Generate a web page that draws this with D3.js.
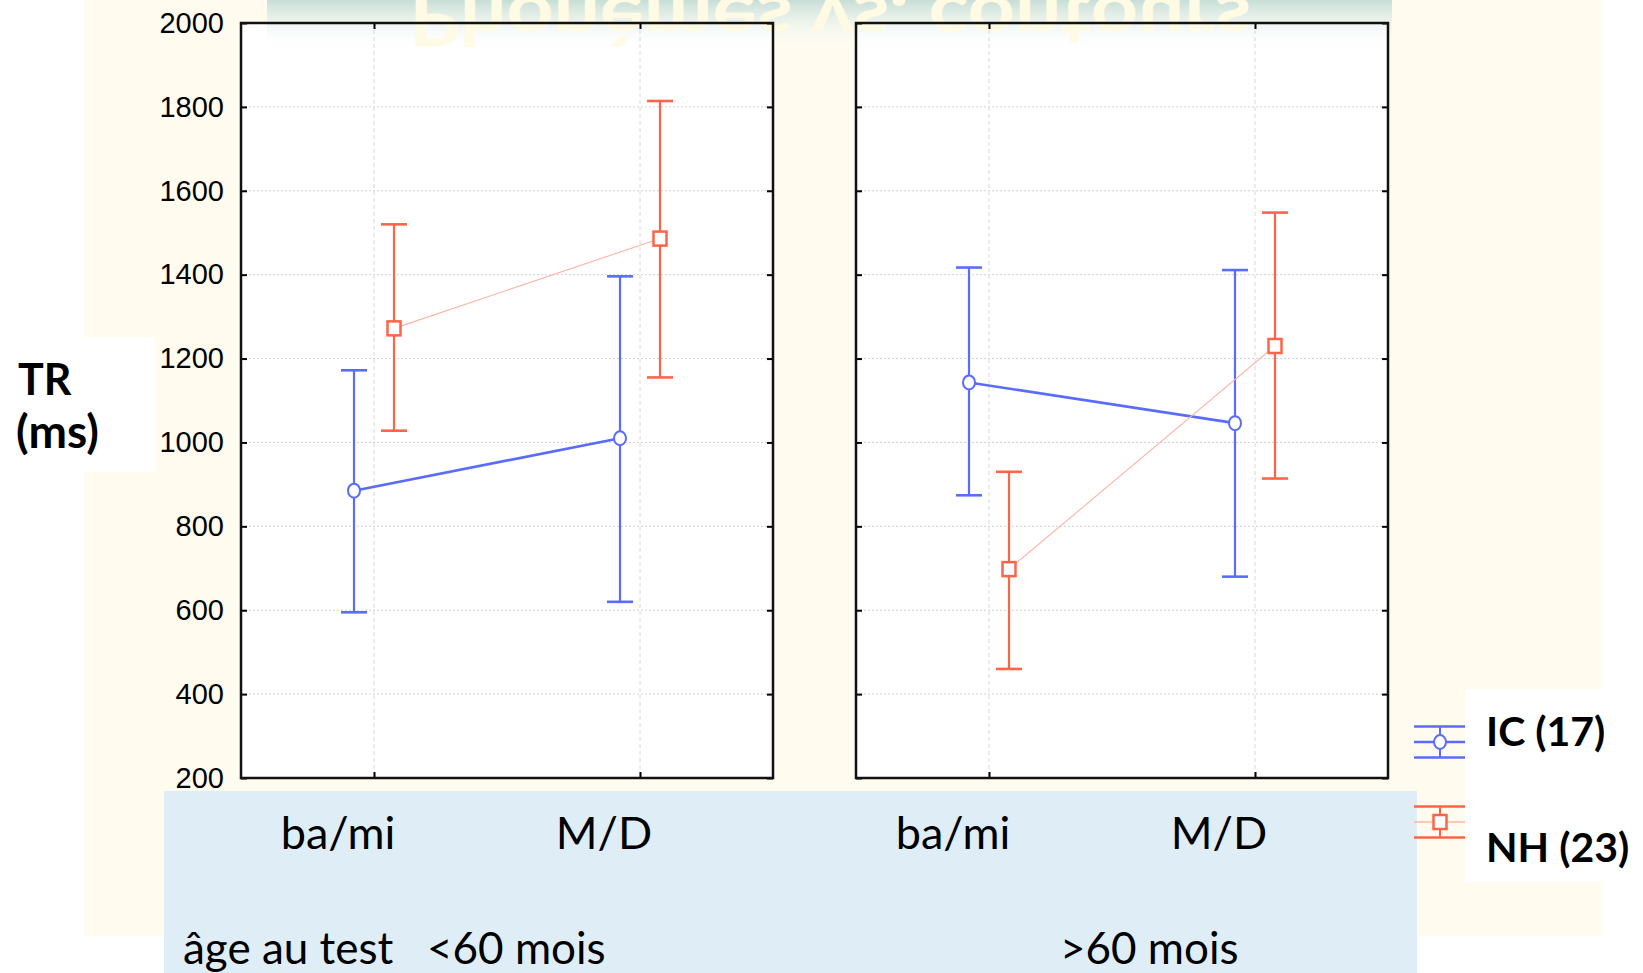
<!DOCTYPE html>
<html>
<head>
<meta charset="utf-8">
<script src="https://cdn.jsdelivr.net/npm/d3@7"></script>
<style>
  body { margin: 0; background: #fff; }
  svg { display: block; }
</style>
</head>
<body>
<svg width="1643" height="973"></svg>
<script>
// values (mean and error bar ends, ms)
const categories = ['ba/mi', 'M/D'];
const panels = ['<60 mois', '>60 mois'];
const seriesNames = ['IC (17)', 'NH (23)'];
const yTicks = [200, 400, 600, 800, 1000, 1200, 1400, 1600, 1800, 2000];

const icMean = [[885, 1010], [1143, 1046]];
const icUpper = [[1172, 1396], [1417, 1411]];
const icLower = [[595, 620], [874, 680]];

const nhMean = [[1272, 1486], [698, 1230]];
const nhUpper = [[1520, 1814], [930, 1548]];
const nhLower = [[1028, 1155], [460, 914]];

const blue = '#5a6cff';
const red = '#ff6448';
const redLine = '#ffb3a3';

const svg = d3.select('svg');

// slide backdrop
svg.append('rect').attr('x', 84).attr('y', 0).attr('width', 1517).attr('height', 936).attr('fill', '#fffcef');
svg.append('rect').attr('x', 0).attr('y', 337).attr('width', 155).attr('height', 135).attr('fill', '#fff');
svg.append('rect').attr('x', 164).attr('y', 791).attr('width', 1253).attr('height', 182).attr('fill', '#dfeef6');

const yScale = d3.scaleLinear().domain([200, 2000]).range([778, 23]);
const offset = d3.scalePoint().domain(['IC', 'NH']).range([-20, 20]);
const panelX = [[241, 773], [856, 1388]];

const defs = svg.append('defs');
const grad = defs.append('linearGradient').attr('id', 'band').attr('x1', 0).attr('y1', 0).attr('x2', 0).attr('y2', 1);
grad.append('stop').attr('offset', '0%').attr('stop-color', '#c6ded7').attr('stop-opacity', 1);
grad.append('stop').attr('offset', '100%').attr('stop-color', '#ffffff').attr('stop-opacity', 0);
const tgrad = defs.append('linearGradient').attr('id', 'reflect')
  .attr('gradientUnits', 'userSpaceOnUse').attr('x1', 0).attr('x2', 0).attr('y1', 0).attr('y2', 50);
tgrad.append('stop').attr('offset', '0%').attr('stop-color', '#fffae3').attr('stop-opacity', 1);
tgrad.append('stop').attr('offset', '100%').attr('stop-color', '#ffffff').attr('stop-opacity', 0.3);

// plot backgrounds
panelX.forEach(([x0, x1]) => {
  svg.append('rect').attr('x', x0).attr('y', 23).attr('width', x1 - x0).attr('height', 755).attr('fill', '#fff');
});

// faded reflection of the slide title
svg.append('rect').attr('x', 267).attr('y', 0).attr('width', 1125).attr('height', 50).attr('fill', 'url(#band)');
svg.append('text')
  .attr('transform', 'translate(409,-4) scale(1,-1)')
  .attr('textLength', 842)
  .attr('lengthAdjust', 'spacingAndGlyphs')
  .style('font-family', 'Lato, sans-serif')
  .style('font-size', '68px')
  .style('font-weight', 'bold')
  .attr('fill', 'url(#reflect)')
  .text('Phonèmes vs. contours');

panelX.forEach(([x0, x1], p) => {
  const xScale = d3.scaleBand().domain(categories).range([x0, x1]);
  const cx = (c) => xScale(c) + xScale.bandwidth() / 2;
  const g = svg.append('g');

  // grid
  g.selectAll('.hgrid').data(yTicks.slice(1, -1)).enter().append('line')
    .attr('x1', x0).attr('x2', x1)
    .attr('y1', (d) => yScale(d)).attr('y2', (d) => yScale(d))
    .attr('stroke', '#d2d2d2').attr('stroke-dasharray', '2,2').attr('stroke-width', 1);
  g.selectAll('.vgrid').data(categories).enter().append('line')
    .attr('x1', cx).attr('x2', cx)
    .attr('y1', 23).attr('y2', 778)
    .attr('stroke', '#d8d8d8').attr('stroke-dasharray', '4,3').attr('stroke-width', 1);

  // axes with inward ticks
  const left = g.append('g').attr('transform', `translate(${x0},0)`)
    .call(d3.axisLeft(yScale).tickValues(yTicks).tickSize(-6).tickSizeOuter(0).tickPadding(17)
      .tickFormat(p === 0 ? d3.format('d') : ''));
  left.selectAll('text').style('font-family', '"Liberation Sans", Arial, sans-serif').style('font-size', '29px').attr('fill', '#000');
  g.append('g').attr('transform', `translate(${x1},0)`)
    .call(d3.axisRight(yScale).tickValues(yTicks).tickSize(-6).tickSizeOuter(0).tickFormat(''));
  const xb = d3.scalePoint().domain(categories).range([cx(categories[0]), cx(categories[1])]);
  g.append('g').attr('transform', 'translate(0,778)')
    .call(d3.axisBottom(xb).tickSize(-6).tickSizeOuter(0).tickFormat(''));
  g.append('g').attr('transform', 'translate(0,23)')
    .call(d3.axisTop(xb).tickSize(-6).tickSizeOuter(0).tickFormat(''));
  g.selectAll('.domain').remove();
  g.selectAll('.tick line').attr('stroke', '#000').attr('stroke-width', 2);

  g.append('rect').attr('x', x0).attr('y', 23).attr('width', x1 - x0).attr('height', 755)
    .attr('fill', 'none').attr('stroke', '#111').attr('stroke-width', 2.5);

  const series = [
    { key: 'IC', mean: icMean[p], up: icUpper[p], lo: icLower[p], color: blue, line: blue, lw: 2.6 },
    { key: 'NH', mean: nhMean[p], up: nhUpper[p], lo: nhLower[p], color: red, line: redLine, lw: 1.1 }
  ];

  series.forEach((s) => {
    const pts = categories.map((c, i) => ({ x: cx(c) + offset(s.key), m: s.mean[i], u: s.up[i], l: s.lo[i] }));
    g.append('path').datum(pts)
      .attr('d', d3.line().x((d) => d.x).y((d) => yScale(d.m)))
      .attr('fill', 'none').attr('stroke', s.line).attr('stroke-width', s.lw);
    const eb = g.selectAll(null).data(pts).enter().append('g');
    eb.append('line').attr('x1', (d) => d.x).attr('x2', (d) => d.x)
      .attr('y1', (d) => yScale(d.u)).attr('y2', (d) => yScale(d.l))
      .attr('stroke', s.color).attr('stroke-width', 2.2);
    ['u', 'l'].forEach((k) => {
      eb.append('line').attr('x1', (d) => d.x - 13).attr('x2', (d) => d.x + 13)
        .attr('y1', (d) => yScale(d[k])).attr('y2', (d) => yScale(d[k]))
        .attr('stroke', s.color).attr('stroke-width', 2.6);
    });
    if (s.key === 'IC') {
      eb.append('ellipse').attr('cx', (d) => d.x).attr('cy', (d) => yScale(d.m))
        .attr('rx', 6).attr('ry', 7).attr('fill', '#fff').attr('stroke', s.color).attr('stroke-width', 2);
    } else {
      eb.append('rect').attr('x', (d) => d.x - 6.5).attr('y', (d) => yScale(d.m) - 7)
        .attr('width', 13).attr('height', 14).attr('fill', '#fff').attr('stroke', s.color).attr('stroke-width', 2.5);
    }
  });

  // category labels in the blue band
  svg.selectAll(null).data(categories).enter().append('text')
    .attr('x', (c) => cx(c) - 36).attr('y', 849)
    .attr('text-anchor', 'middle')
    .style('font-family', 'Lato, sans-serif').style('font-size', '45px')
    .text((c) => c);
});

// y label
const yl = svg.append('text').style('font-family', 'Lato, sans-serif').style('font-size', '43px').style('font-weight', 'bold');
yl.append('tspan').attr('x', 18).attr('y', 395).text('TR');
yl.append('tspan').attr('x', 16).attr('y', 448).style('font-size', '46px').text('(ms)');

// panel labels
svg.append('text').attr('x', 183).attr('y', 964)
  .style('font-family', 'Lato, sans-serif').style('font-size', '44px').style('white-space', 'pre')
  .text('âge au test   ' + panels[0]);
svg.append('text').attr('x', 1060).attr('y', 964)
  .style('font-family', 'Lato, sans-serif').style('font-size', '44px')
  .text(panels[1]);

// legend
const legendY = [742, 822];
const legend = svg.append('g');
legend.selectAll(null).data(seriesNames).enter().append('g')
  .each(function (name, i) {
    const lg = d3.select(this);
    const y = legendY[i];
    const col = i === 0 ? blue : red;
    lg.append('line').attr('x1', 1414).attr('x2', 1466).attr('y1', y - 15.5).attr('y2', y - 15.5).attr('stroke', col).attr('stroke-width', 2.5);
    lg.append('line').attr('x1', 1414).attr('x2', 1466).attr('y1', y + 15.5).attr('y2', y + 15.5).attr('stroke', col).attr('stroke-width', 2.5);
    lg.append('line').attr('x1', 1414).attr('x2', 1466).attr('y1', y).attr('y2', y).attr('stroke', i === 0 ? blue : redLine).attr('stroke-width', i === 0 ? 2.5 : 1.5);
    lg.append('line').attr('x1', 1440).attr('x2', 1440).attr('y1', y - 15.5).attr('y2', y + 15.5).attr('stroke', col).attr('stroke-width', 2);
    if (i === 0) {
      lg.append('ellipse').attr('cx', 1440).attr('cy', y).attr('rx', 6).attr('ry', 7).attr('fill', '#fff').attr('stroke', col).attr('stroke-width', 2);
    } else {
      lg.append('rect').attr('x', 1433.5).attr('y', y - 7).attr('width', 13).attr('height', 14).attr('fill', '#fff').attr('stroke', col).attr('stroke-width', 2.5);
    }
  });
svg.append('rect').attr('x', 1465).attr('y', 689).attr('width', 172).attr('height', 193).attr('fill', '#fff');
svg.selectAll(null).data(seriesNames).enter().append('text')
  .attr('x', 1486).attr('y', (d, i) => [746, 862][i])
  .style('font-family', 'Lato, sans-serif').style('font-size', '41px').style('font-weight', 'bold')
  .text((d) => d);
</script>
</body>
</html>
